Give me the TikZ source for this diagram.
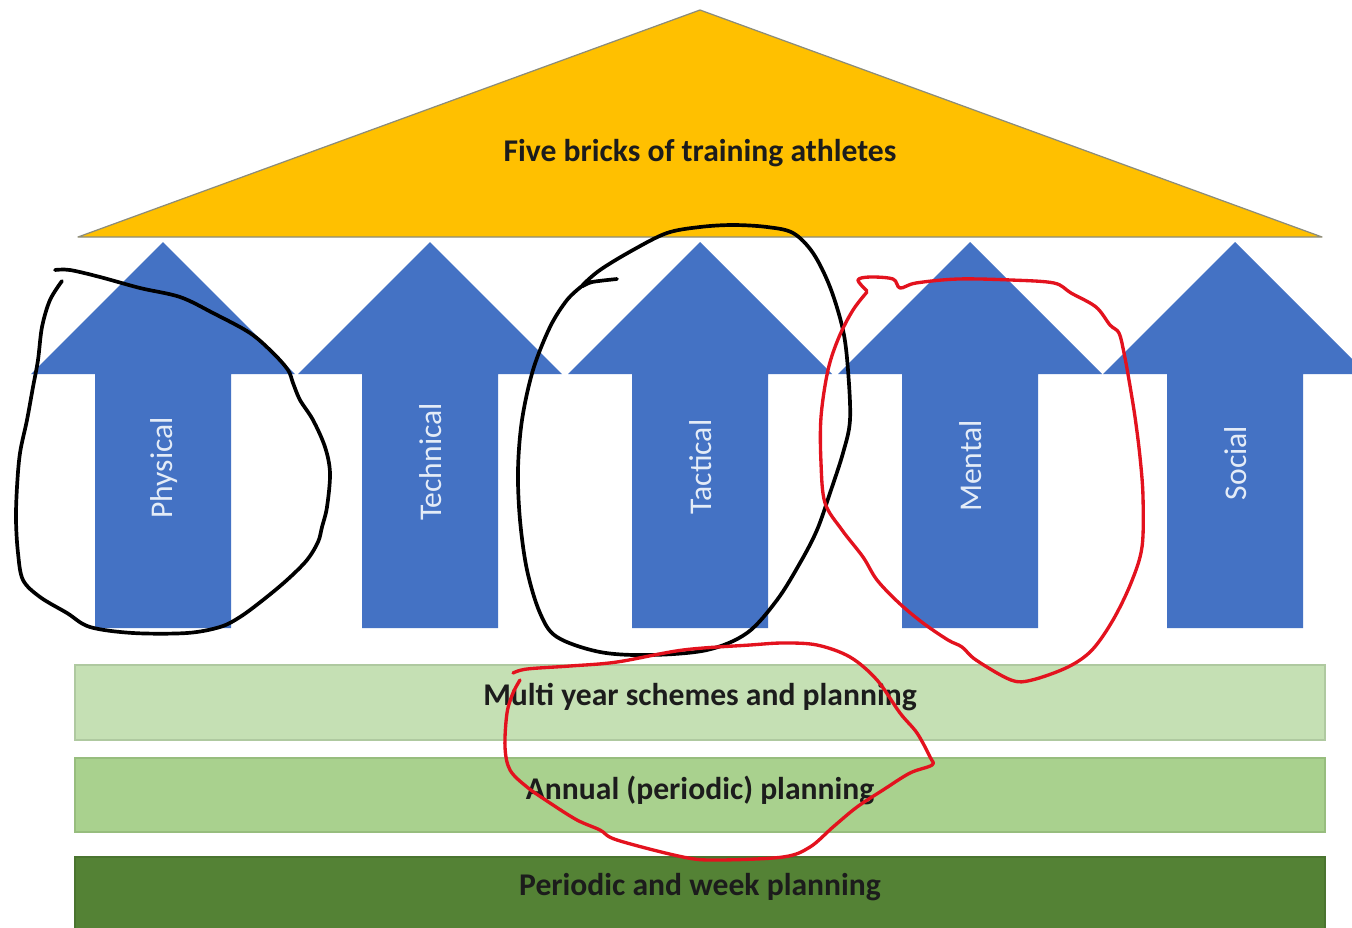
\documentclass[tikz,border=0pt]{standalone}
\usepackage{fontspec}
\setmainfont{Carlito}
\definecolor{roofyellow}{HTML}{FFC000}
\definecolor{roofedge}{HTML}{8C8C7A}
\definecolor{arrowblue}{HTML}{4472C4}
\definecolor{barA}{HTML}{C5E0B4}
\definecolor{barAedge}{HTML}{AFC9A0}
\definecolor{barB}{HTML}{A9D18E}
\definecolor{barBedge}{HTML}{97BD7E}
\definecolor{barC}{HTML}{548235}
\definecolor{barCedge}{HTML}{4A742F}
\definecolor{darktext}{HTML}{1C1C1C}
\definecolor{lbltext}{HTML}{E4ECF7}
\definecolor{penred}{HTML}{E3121E}
\begin{document}
\begin{tikzpicture}[x=0.02cm,y=-0.02cm,
  roof/.style={fill=roofyellow,draw=roofedge,line width=0.7pt,line join=round},
  brick/.style={fill=arrowblue},
  barbox/.style={line width=0.8pt},
  armlabel/.style={text=lbltext,font=\fontsize{18}{20}\selectfont,rotate=90,inner sep=0pt},
  headtext/.style={text=darktext,font=\bfseries\fontsize{18}{20}\selectfont,inner sep=0pt},
  pen/.style={line width=2.1pt,line cap=round,line join=round},
  blackpen/.style={pen,draw=black},
  redpen/.style={pen,draw=penred,line width=1.9pt}]
\useasboundingbox (0,0) rectangle (1352,927);
\clip (0,0) rectangle (1352,927);
\fill[white] (0,0) rectangle (1352,927);

% roof
\draw[roof] (78,237) -- (700,10) -- (1322,237) -- cycle;
\node[headtext] (roofText) at (700,153) {Five bricks of training athletes};

% arrows (bricks)
\foreach \c/\t/\ly in {163/Physical/468,430/Technical/462,700/Tactical/467,970/Mental/466,1235/Social/463}{
  \fill[brick] (\c-68,628) -- (\c-68,374) -- (\c-132,374) -- (\c,242)
     -- (\c+132,374) -- (\c+68,374) -- (\c+68,628) -- cycle;
  \node[armlabel] (lbl-\t) at (\c+1,\ly) {\t};
}

% foundation bars
\draw[barbox,fill=barA,draw=barAedge] (75,665) rectangle (1325,740);
\draw[barbox,fill=barB,draw=barBedge] (75,758) rectangle (1325,832);
\draw[barbox,fill=barC,draw=barCedge] (75,857) rectangle (1325,940);
\node[headtext] (barTextA) at (700,697) {Multi year schemes and planning};
\node[headtext] (barTextB) at (700,790) {Annual (periodic) planning};
\node[headtext] (barTextC) at (700,887) {Periodic and week planning};

% hand-drawn loops
\draw[blackpen] plot[smooth,tension=0.55] coordinates {
 (55,270) (70,270) (100,277) (140,288) (180,297) (213,313) (250,333) (273,353)
 (288,370) (293,383) (300,400) (313,420) (325,447) (330,473) (327,507) (322,527)
 (318,542) (307,560) (287,580) (263,600) (240,617) (220,627) (187,633) (133,633)
 (90,627) (67,613) (40,597) (23,580) (18,553) (16,520) (17,487) (20,453)
 (27,420) (33,387) (38,360) (42,327) (50,300) (62,281)};

\draw[blackpen] plot[smooth,tension=0.55] coordinates {
 (617,279) (592,282) (582,286) (600,270) (633,250) (667,233) (700,227) (733,225)
 (767,227) (793,233) (813,253) (830,287) (843,330) (848,370) (850,420) (843,453)
 (830,493) (817,530) (800,563) (777,600) (747,633) (707,650) (650,655) (600,652)
 (557,637) (540,613) (527,570) (520,520) (518,470) (522,420) (533,370) (550,327)
 (567,300) (582,286)};

\draw[redpen] plot[smooth,tension=0.55] coordinates {
 (867,291) (858,280) (870,277) (893,279) (900,288) (916,283) (958,279) (1011,280)
 (1054,283) (1071,293) (1096,307) (1110,325) (1119,333) (1124,353) (1129,380)
 (1135,417) (1140,457) (1143,497) (1142,547) (1131,583) (1113,620) (1092,650)
 (1068,667) (1032,680) (1011,680) (976,660) (962,647) (948,640) (923,623)
 (899,603) (877,580) (863,557) (842,530) (825,503) (821,463) (821,417) (828,370)
 (839,337) (853,310) (867,292)};

\draw[redpen] plot[smooth,tension=0.55] coordinates {
 (513,673) (527,669) (570,666) (617,662) (683,650) (750,645) (783,643) (817,645)
 (850,657) (877,680) (900,713) (917,733) (930,757) (932,765) (910,773) (883,790)
 (857,807) (833,827) (810,847) (783,857) (717,860) (683,857) (617,840) (600,830)
 (577,820) (550,803) (527,787) (510,770) (505,747) (507,713) (513,693) (520,680)};
\end{tikzpicture}
\end{document}
